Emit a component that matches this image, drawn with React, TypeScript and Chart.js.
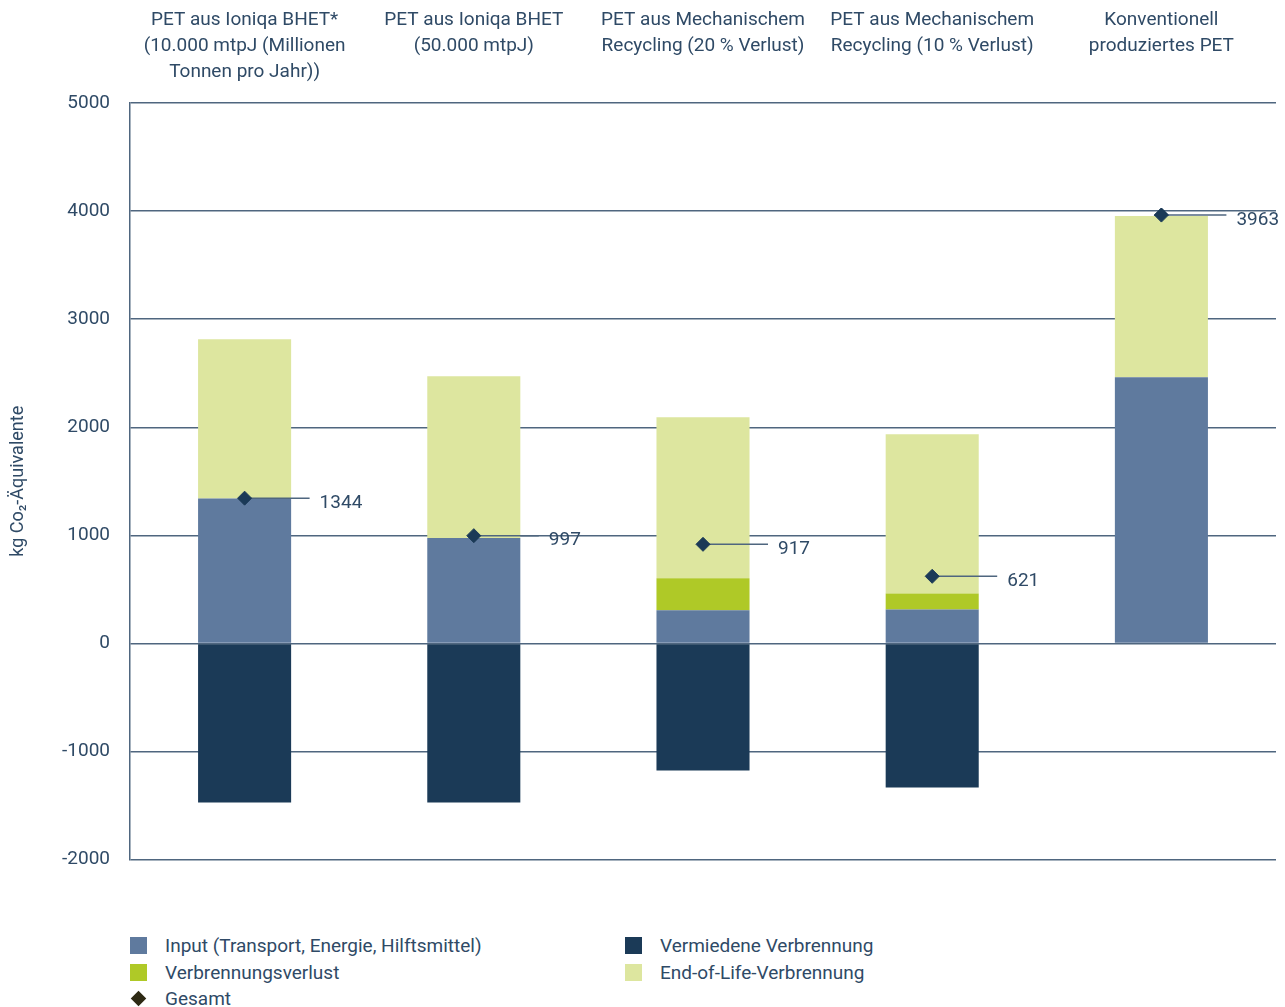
import React, { useEffect, useRef } from "react";
import { Chart, registerables } from "chart.js";

Chart.register(...registerables);

const categories: string[][] = [
  ["PET aus Ioniqa BHET*", "(10.000 mtpJ (Millionen", "Tonnen pro Jahr))"],
  ["PET aus Ioniqa BHET", "(50.000 mtpJ)"],
  ["PET aus Mechanischem", "Recycling (20 % Verlust)"],
  ["PET aus Mechanischem", "Recycling (10 % Verlust)"],
  ["Konventionell", "produziertes PET"],
];

const inputValues = [1340, 975, 306, 315, 2463];
const lossValues = [0, 0, 296, 148, 0];
const eolValues = [1475, 1497, 1491, 1472, 1491];
const avoidedValues = [-1472, -1472, -1176, -1333, 0];
const totalValues = [1344, 997, 917, 621, 3963];

const yTicks = [5000, 4000, 3000, 2000, 1000, 0, -1000, -2000];

const FONT = "Roboto, 'Open Sans', sans-serif";
const TEXT = "#2f4a66";
const GRID = "#4f667f";

const C_INPUT = "#5f7a9e";
const C_LOSS = "#afc927";
const C_EOL = "#dde69f";
const C_AVOID = "#1b3a57";
const C_TOTAL = "#1b3a57";

const legendItems = [
  { label: "Input (Transport, Energie, Hilftsmittel)", color: C_INPUT, x: 130, y: 935, kind: "box" },
  { label: "Vermiedene Verbrennung", color: C_AVOID, x: 625, y: 935, kind: "box" },
  { label: "Verbrennungsverlust", color: C_LOSS, x: 130, y: 962, kind: "box" },
  { label: "End-of-Life-Verbrennung", color: C_EOL, x: 625, y: 962, kind: "box" },
  { label: "Gesamt", color: "#2e2a14", x: 130, y: 988, kind: "diamond" },
];

const totalLabelPlugin = {
  id: "totalLabels",
  afterDatasetsDraw(chart: any) {
    const meta = chart.getDatasetMeta(4);
    const ctx = chart.ctx;
    ctx.save();
    meta.data.forEach((pt: any, i: number) => {
      const x = pt.x;
      const y = pt.y;
      ctx.strokeStyle = GRID;
      ctx.lineWidth = 1.5;
      ctx.beginPath();
      ctx.moveTo(x, y);
      ctx.lineTo(x + 65, y);
      ctx.stroke();
      pt.draw(ctx, chart.chartArea);
      ctx.fillStyle = TEXT;
      ctx.font = `19px ${FONT}`;
      ctx.textAlign = "left";
      ctx.textBaseline = "middle";
      ctx.fillText(String(totalValues[i]), x + 75, y + 5);
    });
    ctx.restore();
  },
};

export default function App() {
  const canvasRef = useRef<HTMLCanvasElement>(null);

  useEffect(() => {
    const canvas = canvasRef.current;
    if (!canvas) return;
    const chart = new Chart(canvas, {
      type: "bar",
      data: {
        labels: categories,
        datasets: [
          { type: "bar", label: "Input (Transport, Energie, Hilftsmittel)", data: inputValues, backgroundColor: C_INPUT, stack: "s" },
          { type: "bar", label: "Verbrennungsverlust", data: lossValues, backgroundColor: C_LOSS, stack: "s" },
          { type: "bar", label: "End-of-Life-Verbrennung", data: eolValues, backgroundColor: C_EOL, stack: "s" },
          { type: "bar", label: "Vermiedene Verbrennung", data: avoidedValues, backgroundColor: C_AVOID, stack: "s" },
          {
            type: "line",
            label: "Gesamt",
            data: totalValues,
            showLine: false,
            pointStyle: "rectRot",
            pointRadius: 7,
            pointHoverRadius: 7,
            pointBackgroundColor: C_TOTAL,
            pointBorderColor: C_TOTAL,
            borderColor: C_TOTAL,
            stack: "t",
          } as any,
        ],
      },
      options: {
        responsive: false,
        animation: false,
        layout: { padding: { top: 0, right: 9, bottom: 10, left: 0 } },
        datasets: {
          bar: { categoryPercentage: 1, barPercentage: 0.406 },
        } as any,
        plugins: {
          legend: { display: false },
          tooltip: { enabled: false },
          title: { display: false },
        },
        scales: {
          x: {
            position: "top",
            stacked: true,
            grid: { display: false, drawTicks: false },
            border: { display: false },
            ticks: {
              color: TEXT,
              font: { family: FONT, size: 19, lineHeight: 26 / 19 },
              padding: 18,
              crossAlign: "far",
              maxRotation: 0,
              autoSkip: false,
            },
            afterFit(scale: any) {
              scale.height = 103;
            },
          },
          y: {
            stacked: true,
            min: -2000,
            max: 5000,
            afterBuildTicks(scale: any) {
              scale.ticks = yTicks.map((v) => ({ value: v }));
            },
            grid: { color: GRID, lineWidth: 1.5, drawTicks: false },
            border: { display: true, color: GRID, width: 1.5 },
            ticks: {
              color: TEXT,
              font: { family: FONT, size: 19 },
              padding: 20,
              callback: (v: any) => String(v),
            },
            title: {
              display: true,
              text: "kg Co₂-Äquivalente",
              color: TEXT,
              font: { family: FONT, size: 18 },
              padding: { top: 8, bottom: 0 },
            },
            afterFit(scale: any) {
              scale.width = 130;
            },
          },
        },
      },
      plugins: [totalLabelPlugin],
    } as any);
    return () => chart.destroy();
  }, []);

  return (
    <div style={{ position: "absolute", left: 0, top: 0, width: 1285, height: 1007, background: "#fff", overflow: "hidden" }}>
      <canvas ref={canvasRef} width={1285} height={891} style={{ display: "block" }} />
      {legendItems.map((it) => (
        <div
          key={it.label}
          style={{
            position: "absolute",
            left: it.x,
            top: it.y,
            height: 20,
            display: "flex",
            alignItems: "center",
            fontFamily: FONT,
            fontSize: 19,
            color: TEXT,
            whiteSpace: "nowrap",
          }}
        >
          {it.kind === "box" ? (
            <span style={{ display: "inline-block", width: 17, height: 17, background: it.color, marginRight: 18 }} />
          ) : (
            <span style={{ display: "inline-block", width: 17, height: 17, marginRight: 18, position: "relative" }}>
              <span
                style={{
                  position: "absolute",
                  left: 3,
                  top: 3,
                  width: 11,
                  height: 11,
                  background: it.color,
                  transform: "rotate(45deg)",
                }}
              />
            </span>
          )}
          <span>{it.label}</span>
        </div>
      ))}
    </div>
  );
}
